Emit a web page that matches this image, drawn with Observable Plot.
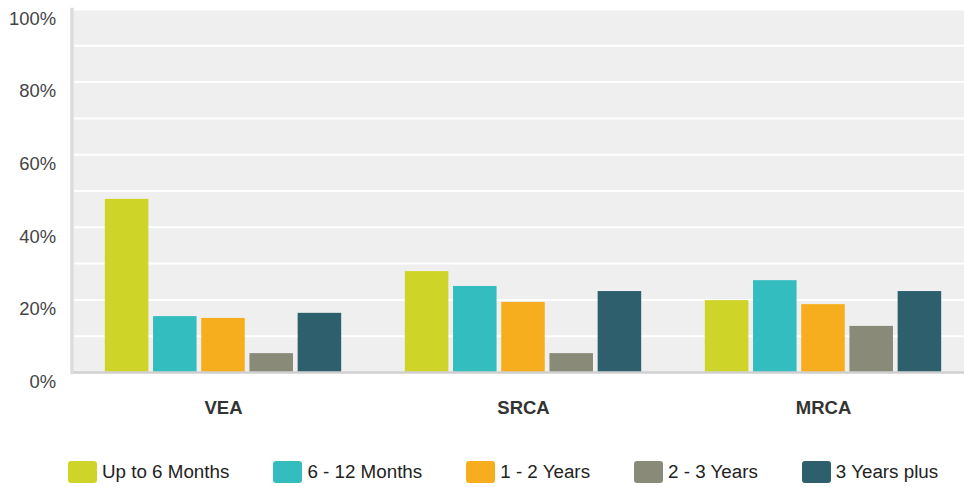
<!DOCTYPE html>
<html>
<head>
<meta charset="utf-8">
<script src="https://cdn.jsdelivr.net/npm/d3@7"></script>
<script src="https://cdn.jsdelivr.net/npm/@observablehq/plot@0.6"></script>
<style>
  html, body { margin: 0; padding: 0; background: #fff; overflow: hidden; }
  body { width: 964px; height: 487px; font-family: "Liberation Sans", Arial, sans-serif; }
  #legend { display: flex; gap: 44px; padding-left: 68px; margin-top: 31px; align-items: center; }
  .item { display: flex; align-items: center; gap: 5px; font-size: 18.8px; color: #222; }
  .sw { width: 29px; height: 22px; border-radius: 3px; }
</style>
</head>
<body>
<div id="chart"></div>
<div id="legend"></div>
<script>
const groups = ["VEA", "SRCA", "MRCA"];
const series = ["Up to 6 Months", "6 - 12 Months", "1 - 2 Years", "2 - 3 Years", "3 Years plus"];
const colors = ["#cfd429", "#33bdbf", "#f7ae1e", "#8a8a79", "#2e5f6d"];
const vea  = [47.7, 15.4, 14.9, 5.2, 16.3];
const srca = [27.8, 23.7, 19.3, 5.2, 22.3];
const mrca = [19.8, 25.3, 18.7, 12.7, 22.3];
const yTicks = [0, 20, 40, 60, 80, 100];
const gridTicks = [10, 20, 30, 40, 50, 60, 70, 80, 90, 100];

const valuesByGroup = [vea, srca, mrca];
const data = groups.flatMap((g, gi) => series.map((s, si) => ({group: g, series: s, value: valuesByGroup[gi][si]})));

const xRange = [72, 974];
const step = (xRange[1] - xRange[0]) / groups.length;
const inner = d3.scaleBand().domain(series).range([0, step]).paddingInner(0.083).paddingOuter(0.66);

const chart = Plot.plot({
  width: 964,
  height: 430,
  marginTop: 9,
  marginBottom: 58,
  marginLeft: 73,
  marginRight: 0,
  style: {fontFamily: "'Liberation Sans', Arial, sans-serif", background: "transparent"},
  x: {domain: groups, range: xRange, padding: 0},
  y: {domain: [0, 100]},
  marks: [
    Plot.frame({fill: "#efefef", stroke: null}),
    Plot.ruleY(gridTicks, {stroke: "#ffffff", strokeWidth: 2}),
    ...series.map((s, i) => Plot.barY(data.filter(d => d.series === s), {
      x: "group", y: "value", fill: colors[i],
      insetLeft: inner(s), insetRight: step - inner(s) - inner.bandwidth()
    })),
    Plot.ruleY([0], {stroke: "#d0d0d0", strokeWidth: 2.5}),
    Plot.frame({anchor: "left", stroke: "#dcdcdc", strokeWidth: 3.5, dx: -1.5}),
    Plot.axisY({ticks: yTicks, tickFormat: d => d + "%", tickSize: 0, tickPadding: 17.5, dy: 9.5, fontSize: 18.4, fill: "#444", label: null}),
    Plot.axisX({tickSize: 0, tickPadding: 28, fontSize: 18.5, fontWeight: "bold", fill: "#333", label: null})
  ]
});
document.getElementById("chart").appendChild(chart);

const legend = document.getElementById("legend");
series.forEach((s, i) => {
  const item = document.createElement("div");
  item.className = "item";
  const sw = document.createElement("div");
  sw.className = "sw";
  sw.style.background = colors[i];
  const t = document.createElement("span");
  t.textContent = s;
  item.appendChild(sw);
  item.appendChild(t);
  legend.appendChild(item);
});
</script>
</body>
</html>
